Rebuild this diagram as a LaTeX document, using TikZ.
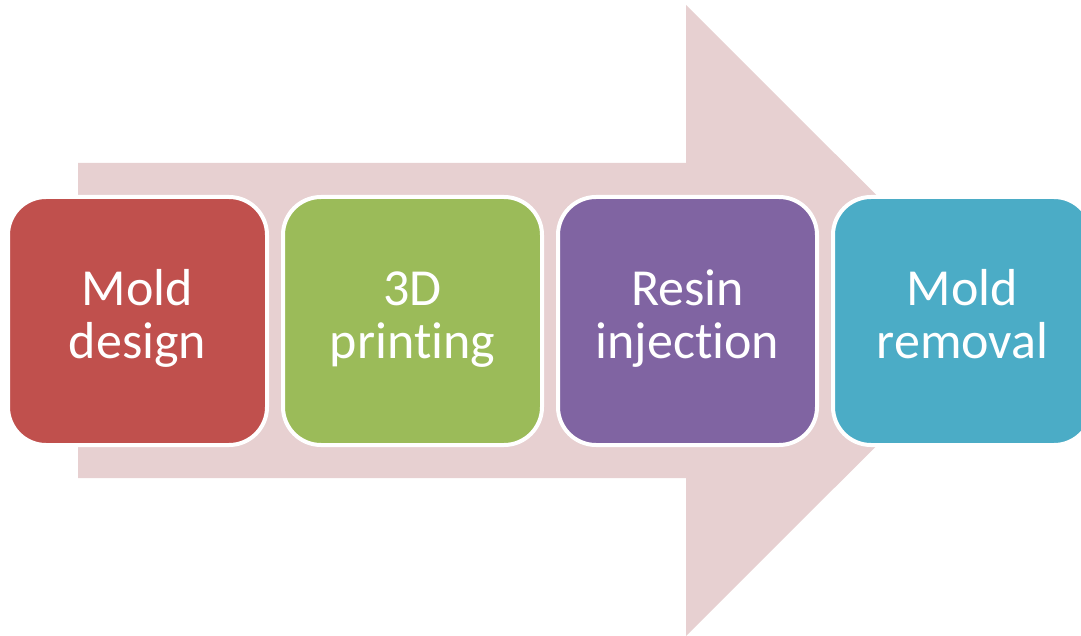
\documentclass[tikz,border=0pt]{standalone}
\usepackage{fontspec}
\setmainfont{Carlito}[Ligatures=NoCommon]
\definecolor{flowarrow}{HTML}{E7D0D1}
\definecolor{stepred}{HTML}{C0504D}
\definecolor{stepgreen}{HTML}{9BBB59}
\definecolor{steppurple}{HTML}{8064A2}
\definecolor{stepteal}{HTML}{4BACC6}
\newcommand{\twolines}[2]{\strut#1\\\strut#2}
\tikzset{
  stepbox/.style={draw=white, line width=4pt, rounded corners=38pt,
    minimum width=259pt, minimum height=248pt, inner sep=0pt,
    text=white, align=center,
    font=\fontsize{52}{53}\selectfont}
}
\begin{document}
\begin{tikzpicture}[x=1pt,y=-1pt]
  \useasboundingbox (0,0) rectangle (1081,636);
  \clip (0,0) rectangle (1081,636);
  % background process arrow
  \fill[flowarrow] (78,163) -- (686,163) -- (686,5) -- (1002,320.5)
    -- (686,636) -- (686,478) -- (78,478) -- cycle;
  % process steps
  \node[stepbox, fill=stepred]    (s1) at (137.5,321) {\twolines{Mold}{design}};
  \node[stepbox, fill=stepgreen]  (s2) at (412.5,321) {\twolines{3D}{printing}};
  \node[stepbox, fill=steppurple] (s3) at (687.5,321) {\twolines{Resin}{injection}};
  \node[stepbox, fill=stepteal]   (s4) at (962.5,321) {\twolines{Mold}{removal}};
\end{tikzpicture}
\end{document}
